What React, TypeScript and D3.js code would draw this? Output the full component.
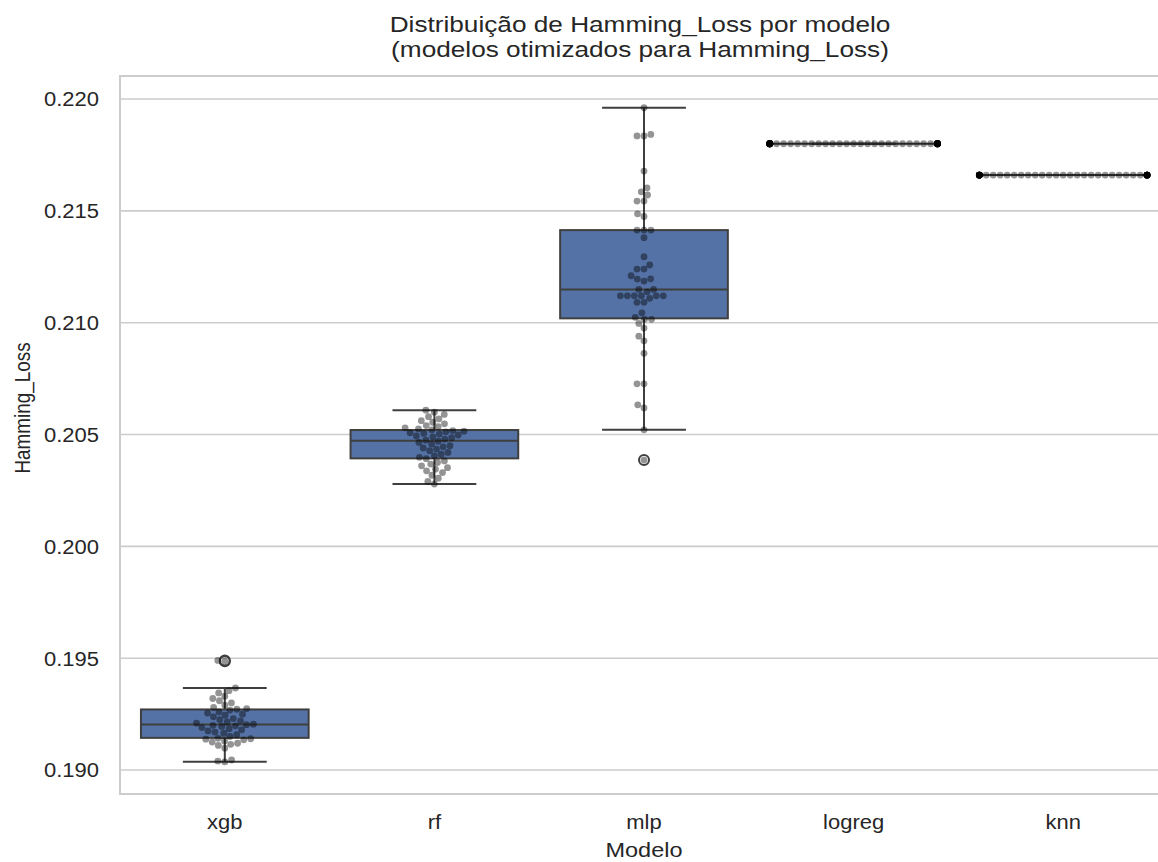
import React, { useEffect, useRef } from "react";
import * as d3 from "d3";

// model order on the x axis
const categories = ["xgb", "rf", "mlp", "logreg", "knn"];

// Hamming_Loss per run
const xgbValues = [
  0.19037, 0.1904, 0.19045, 0.19098, 0.1911, 0.19115, 0.1912, 0.19125, 0.1913, 0.19135,
  0.19138, 0.1914, 0.19142, 0.1915, 0.19158, 0.19165, 0.1917, 0.19175, 0.1918, 0.19185,
  0.1919, 0.19195, 0.19198, 0.192, 0.19203, 0.19205, 0.1921, 0.19215, 0.1922, 0.19225,
  0.1923, 0.19238, 0.19245, 0.1925, 0.19255, 0.1926, 0.19268, 0.19272, 0.19275, 0.1928,
  0.1929, 0.193, 0.1931, 0.1932, 0.1933, 0.19345, 0.19355, 0.19367, 0.19487, 0.1949,
];
const rfValues = [
  0.20279, 0.2029, 0.20305, 0.20318, 0.2033, 0.20338, 0.20345, 0.20352, 0.2036, 0.20368,
  0.20375, 0.20382, 0.20392, 0.20398, 0.20405, 0.20412, 0.2042, 0.20428, 0.20435, 0.2044,
  0.20445, 0.2045, 0.20458, 0.20465, 0.2047, 0.20475, 0.2048, 0.20486, 0.2049, 0.20494,
  0.20498, 0.20502, 0.20505, 0.20508, 0.20512, 0.20515, 0.20518, 0.20521, 0.20525, 0.2053,
  0.20535, 0.2054, 0.20548, 0.20555, 0.20562, 0.2057, 0.2058, 0.2059, 0.206, 0.20609,
];
const mlpValues = [
  0.21961, 0.21835, 0.21835, 0.21842, 0.21678, 0.21603, 0.21585, 0.21571, 0.21544, 0.21544,
  0.21487, 0.21475, 0.21414, 0.21414, 0.21414, 0.2138, 0.21295, 0.21258, 0.2124, 0.2124,
  0.2121, 0.21196, 0.21186, 0.21195, 0.21149, 0.21149, 0.21138, 0.2112, 0.2112, 0.2112,
  0.2112, 0.2112, 0.2112, 0.21109, 0.21091, 0.21091, 0.21044, 0.21024, 0.21015, 0.21015,
  0.20997, 0.20976, 0.2094, 0.20919, 0.20863, 0.20727, 0.20727, 0.20633, 0.20619, 0.20521,
  0.20386,
];
const logregValues = [
  0.218, 0.218, 0.218, 0.218, 0.218, 0.218, 0.218, 0.218, 0.218, 0.218,
  0.218, 0.218, 0.218, 0.218, 0.218, 0.218, 0.218, 0.218, 0.218, 0.218,
  0.218, 0.218, 0.218, 0.218, 0.218, 0.218, 0.218, 0.218, 0.218, 0.218,
  0.218, 0.218, 0.218, 0.218, 0.218, 0.218, 0.218, 0.218, 0.218, 0.218,
  0.218, 0.218, 0.218, 0.218, 0.218, 0.218, 0.218, 0.218, 0.218, 0.218,
];
const knnValues = [
  0.2166, 0.2166, 0.2166, 0.2166, 0.2166, 0.2166, 0.2166, 0.2166, 0.2166, 0.2166,
  0.2166, 0.2166, 0.2166, 0.2166, 0.2166, 0.2166, 0.2166, 0.2166, 0.2166, 0.2166,
  0.2166, 0.2166, 0.2166, 0.2166, 0.2166, 0.2166, 0.2166, 0.2166, 0.2166, 0.2166,
  0.2166, 0.2166, 0.2166, 0.2166, 0.2166, 0.2166, 0.2166, 0.2166, 0.2166, 0.2166,
  0.2166, 0.2166, 0.2166, 0.2166, 0.2166, 0.2166, 0.2166, 0.2166, 0.2166, 0.2166,
];

const yTicks = [0.19, 0.195, 0.2, 0.205, 0.21, 0.215, 0.22];

const titleLines = [
  "Distribuição de Hamming_Loss por modelo",
  "(modelos otimizados para Hamming_Loss)",
];

const FONT = "'Liberation Sans', Arial, sans-serif";
const TEXT = "#262626";
const GRID = "#cccccc";
const BOX = "#5472a5";
const LINE = "#3f3f3f";

// simple beeswarm: place each point as close to the center as it can go
function swarm(ys: number[], d: number, half: number) {
  const order = ys.map((y, i) => i).sort((a, b) => ys[b] - ys[a]);
  const placed: { x: number; y: number }[] = [];
  const out = new Array(ys.length);
  order.forEach((i) => {
    const y = ys[i];
    const near = placed.filter((q) => Math.abs(q.y - y) < d);
    const cands = [0];
    near.forEach((q) => {
      const dx = Math.sqrt(d * d - (q.y - y) * (q.y - y));
      cands.push(q.x - dx, q.x + dx);
    });
    cands.sort((a, b) => Math.abs(a) - Math.abs(b));
    let x = 0;
    for (const c of cands) {
      const ok = near.every((q) => (q.x - c) ** 2 + (q.y - y) ** 2 >= d * d - 1e-6);
      if (ok) {
        x = c;
        break;
      }
    }
    placed.push({ x, y });
    out[i] = Math.max(-half, Math.min(half, x));
  });
  return out as number[];
}

const App = () => {
  const svgRef = useRef(null);

  const config = {
    width: 1158,
    height: 862,
    margin: { top: 76, right: -10, bottom: 68, left: 120 },
  };

  useEffect(() => {
    const svg = d3.select(svgRef.current);
    svg.selectAll("*").remove();

    const { width, height, margin } = config;
    const left = margin.left,
      right = width - margin.right,
      top = margin.top,
      bottom = height - margin.bottom;

    const x = d3.scaleBand().domain(categories).range([left, right]).padding(0);
    const y = d3.scaleLinear().domain([0.18893, 0.22103]).range([bottom, top]);

    const seriesList = [xgbValues, rfValues, mlpValues, logregValues, knnValues];

    // text in the reference is a bit squashed vertically
    const label = (tx: number, ty: number, sy: number) =>
      `translate(${tx},${ty}) scale(1,${sy})`;

    // grid
    svg
      .append("g")
      .selectAll("line")
      .data(yTicks)
      .join("line")
      .attr("x1", left)
      .attr("x2", right)
      .attr("y1", (d) => y(d))
      .attr("y2", (d) => y(d))
      .attr("stroke", GRID)
      .attr("stroke-width", 1.6);

    // spines
    svg
      .append("rect")
      .attr("x", left)
      .attr("y", top)
      .attr("width", right - left)
      .attr("height", bottom - top)
      .attr("fill", "none")
      .attr("stroke", GRID)
      .attr("stroke-width", 2);

    // y tick labels
    svg
      .append("g")
      .selectAll("text")
      .data(yTicks)
      .join("text")
      .attr("transform", (d) => label(left - 21, y(d) + 7.3, 0.92))
      .attr("text-anchor", "end")
      .attr("font-family", FONT)
      .attr("font-size", 22)
      .attr("fill", TEXT)
      .text((d) => d3.format(".3f")(d));

    // x tick labels
    svg
      .append("g")
      .selectAll("text")
      .data(categories)
      .join("text")
      .attr("transform", (d) => label(x(d)! + x.bandwidth() / 2, 829, 0.9))
      .attr("text-anchor", "middle")
      .attr("font-family", FONT)
      .attr("font-size", 22)
      .attr("fill", TEXT)
      .text((d) => d);

    // boxes
    const boxW = x.bandwidth() * 0.8;
    categories.forEach((cat, i) => {
      const vals = seriesList[i].slice().sort(d3.ascending);
      const q1 = d3.quantile(vals, 0.25)!;
      const med = d3.quantile(vals, 0.5)!;
      const q3 = d3.quantile(vals, 0.75)!;
      const iqr = q3 - q1;
      const lo = d3.min(vals.filter((v) => v >= q1 - 1.5 * iqr))!;
      const hi = d3.max(vals.filter((v) => v <= q3 + 1.5 * iqr))!;
      const fliers = vals.filter((v) => v < lo || v > hi);
      const cx = x(cat)! + x.bandwidth() / 2;
      const g = svg.append("g");

      g.append("line")
        .attr("x1", cx)
        .attr("x2", cx)
        .attr("y1", y(hi))
        .attr("y2", y(lo))
        .attr("stroke", LINE)
        .attr("stroke-width", 2);
      [lo, hi].forEach((v) => {
        g.append("line")
          .attr("x1", cx - boxW / 4)
          .attr("x2", cx + boxW / 4)
          .attr("y1", y(v))
          .attr("y2", y(v))
          .attr("stroke", LINE)
          .attr("stroke-width", 2);
      });
      g.append("rect")
        .attr("x", cx - boxW / 2)
        .attr("y", y(q3))
        .attr("width", boxW)
        .attr("height", Math.max(0, y(q1) - y(q3)))
        .attr("fill", BOX)
        .attr("stroke", LINE)
        .attr("stroke-width", 2);
      g.append("line")
        .attr("x1", cx - boxW / 2)
        .attr("x2", cx + boxW / 2)
        .attr("y1", y(med))
        .attr("y2", y(med))
        .attr("stroke", LINE)
        .attr("stroke-width", 2);
      g.selectAll("circle.flier")
        .data(fliers)
        .join("circle")
        .attr("class", "flier")
        .attr("cx", cx)
        .attr("cy", (d) => y(d))
        .attr("r", 5)
        .attr("fill", "none")
        .attr("stroke", LINE)
        .attr("stroke-width", 2);
    });

    // swarm points
    categories.forEach((cat, i) => {
      const ys = seriesList[i].map((v) => y(v));
      const offs = swarm(ys, 7, boxW / 2);
      const cx = x(cat)! + x.bandwidth() / 2;
      svg
        .append("g")
        .selectAll("circle")
        .data(ys)
        .join("circle")
        .attr("cx", (d, j) => cx + offs[j])
        .attr("cy", (d) => d)
        .attr("r", 3.4)
        .attr("fill", "#000")
        .attr("fill-opacity", 0.42);
    });

    // title
    svg
      .append("g")
      .selectAll("text")
      .data(titleLines)
      .join("text")
      .attr("transform", (d, i) => label(640, 32 + i * 25, 0.86))
      .attr("text-anchor", "middle")
      .attr("font-family", FONT)
      .attr("font-size", 26.2)
      .attr("fill", TEXT)
      .text((d) => d);

    // axis labels
    svg
      .append("text")
      .attr("transform", label((left + right) / 2, 856.5, 0.85))
      .attr("text-anchor", "middle")
      .attr("font-family", FONT)
      .attr("font-size", 23.5)
      .attr("fill", TEXT)
      .text("Modelo");

    svg
      .append("text")
      .attr("transform", "translate(30,408) rotate(-90) scale(0.84,1)")
      .attr("text-anchor", "middle")
      .attr("font-family", FONT)
      .attr("font-size", 22.5)
      .attr("fill", TEXT)
      .text("Hamming_Loss");
  }, []);

  return (
    <div style={{ position: "absolute", left: 0, top: 0 }}>
      <svg
        ref={svgRef}
        width={config.width}
        height={config.height}
        style={{ display: "block", background: "#fff" }}
      ></svg>
    </div>
  );
};

export default App;
